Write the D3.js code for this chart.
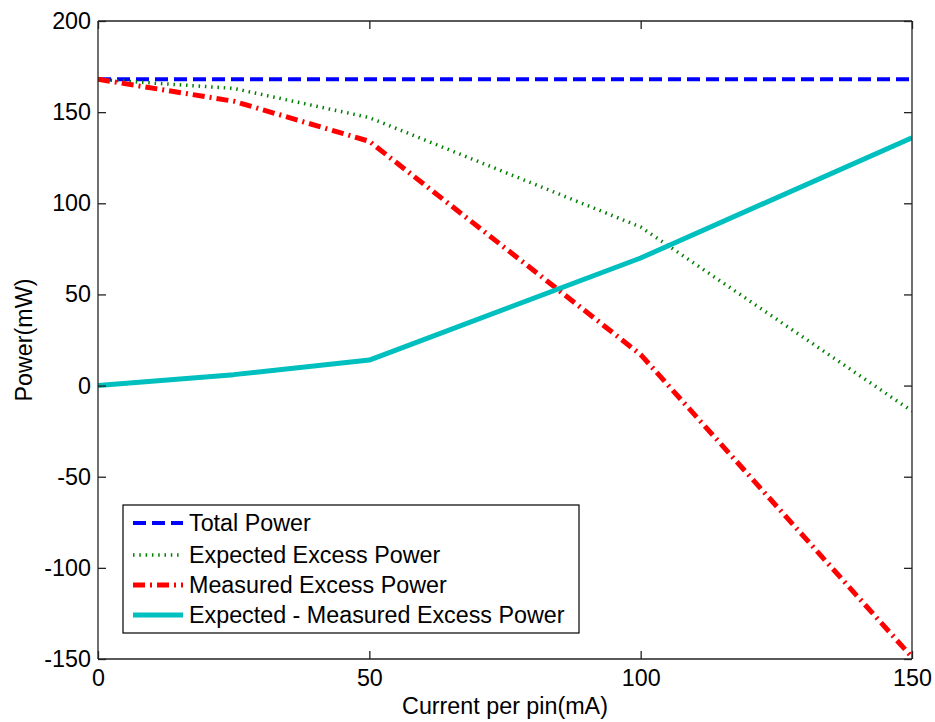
<!DOCTYPE html>
<html><head><meta charset="utf-8">
<script src="https://cdn.jsdelivr.net/npm/d3@7"></script>
<style>body{margin:0;background:#fff}svg{display:block}text{font-family:Arial,"Liberation Sans",sans-serif;fill:#000}</style>
</head><body>
<script>
const currents = [0, 25, 50, 100, 150];
const totalPower = [168, 168, 168, 168, 168];
const expectedExcess = [168, 163, 147, 87, -14];
const measuredExcess = [168, 156, 134, 17, -149];
const difference = [0, 6, 14, 70, 136];
const xTicks = [0, 50, 100, 150];
const yTicks = [200, 150, 100, 50, 0, -50, -100, -150];
const seriesNames = ["Total Power", "Expected Excess Power", "Measured Excess Power", "Expected - Measured Excess Power"];

const W = 935, H = 722;
const m = {l: 98, r: 912, t: 21, b: 659};
const svg = d3.select("body").append("svg").attr("width", W).attr("height", H);
const x = d3.scaleLinear().domain([0, 150]).range([m.l, m.r]);
const y = d3.scaleLinear().domain([-150, 200]).range([m.b, m.t]);
const fs = 23.3;
const fmt = d => String(d);

const styles = [
  {color: "#0000ff", w: 4, dash: "13,6"},
  {color: "#008000", w: 3.5, dash: "1.5,4.8"},
  {color: "#ff0000", w: 5, dash: "12,5,2,5"},
  {color: "#00bfbf", w: 5, dash: null}
];
const data = [totalPower, expectedExcess, measuredExcess, difference];

svg.append("defs").append("clipPath").attr("id","c").append("rect")
  .attr("x", m.l).attr("y", m.t).attr("width", m.r-m.l).attr("height", m.b-m.t);

const line = d3.line().x((d,i)=>x(currents[i])).y(d=>y(d));
const g = svg.append("g").attr("clip-path","url(#c)");
data.forEach((vals, k) => {
  const s = styles[k];
  g.append("path").datum(vals).attr("d", line).attr("fill","none")
    .attr("stroke", s.color).attr("stroke-width", s.w)
    .attr("stroke-dasharray", s.dash).attr("stroke-linejoin","round");
});

// axes
const axCol = "#222";
const axB = svg.append("g").attr("transform", `translate(0,${m.b})`)
  .call(d3.axisBottom(x).tickValues(xTicks).tickSize(-8).tickPadding(10).tickFormat(fmt));
const axT = svg.append("g").attr("transform", `translate(0,${m.t})`)
  .call(d3.axisTop(x).tickValues(xTicks).tickSize(-8).tickFormat(""));
const axL = svg.append("g").attr("transform", `translate(${m.l},0)`)
  .call(d3.axisLeft(y).tickValues(yTicks).tickSize(-8).tickPadding(7).tickFormat(fmt));
const axR = svg.append("g").attr("transform", `translate(${m.r},0)`)
  .call(d3.axisRight(y).tickValues(yTicks).tickSize(-8).tickFormat(""));
[axB, axT, axL, axR].forEach(a => {
  a.selectAll(".domain").attr("stroke", axCol).attr("stroke-width", 1.3);
  a.selectAll(".tick line").attr("stroke", axCol).attr("stroke-width", 1.3);
  a.selectAll("text").style("font-size", fs + "px").attr("fill", "#000");
});
axB.selectAll(".domain").attr("d", `M${m.l},0H${m.r}`);
axT.selectAll(".domain").attr("d", `M${m.l},0H${m.r}`);
axL.selectAll(".domain").attr("d", `M0,${m.t}V${m.b}`);
axR.selectAll(".domain").attr("d", `M0,${m.t}V${m.b}`);

svg.append("text").attr("x", (m.l+m.r)/2).attr("y", 714).attr("text-anchor","middle")
  .style("font-size", fs+"px").text("Current per pin(mA)");
svg.append("text").attr("transform", `translate(32,${(m.t+m.b)/2}) rotate(-90)`)
  .attr("text-anchor","middle").style("font-size", fs+"px").text("Power(mW)");

// legend
const lg = svg.append("g");
lg.append("rect").attr("x",123).attr("y",505).attr("width",456).attr("height",128)
  .attr("fill","#fff").attr("stroke","#000").attr("stroke-width",1.2);
const rows = [523, 555, 585, 615];
seriesNames.forEach((n,k) => {
  const s = styles[k];
  lg.append("line").attr("x1",133).attr("x2",183).attr("y1",rows[k]).attr("y2",rows[k])
    .attr("stroke", s.color).attr("stroke-width", s.w).attr("stroke-dasharray", s.dash);
  lg.append("text").attr("x",189).attr("y",rows[k]).attr("dy","0.36em")
    .style("font-size", fs+"px").text(n);
});
</script>
</body></html>
